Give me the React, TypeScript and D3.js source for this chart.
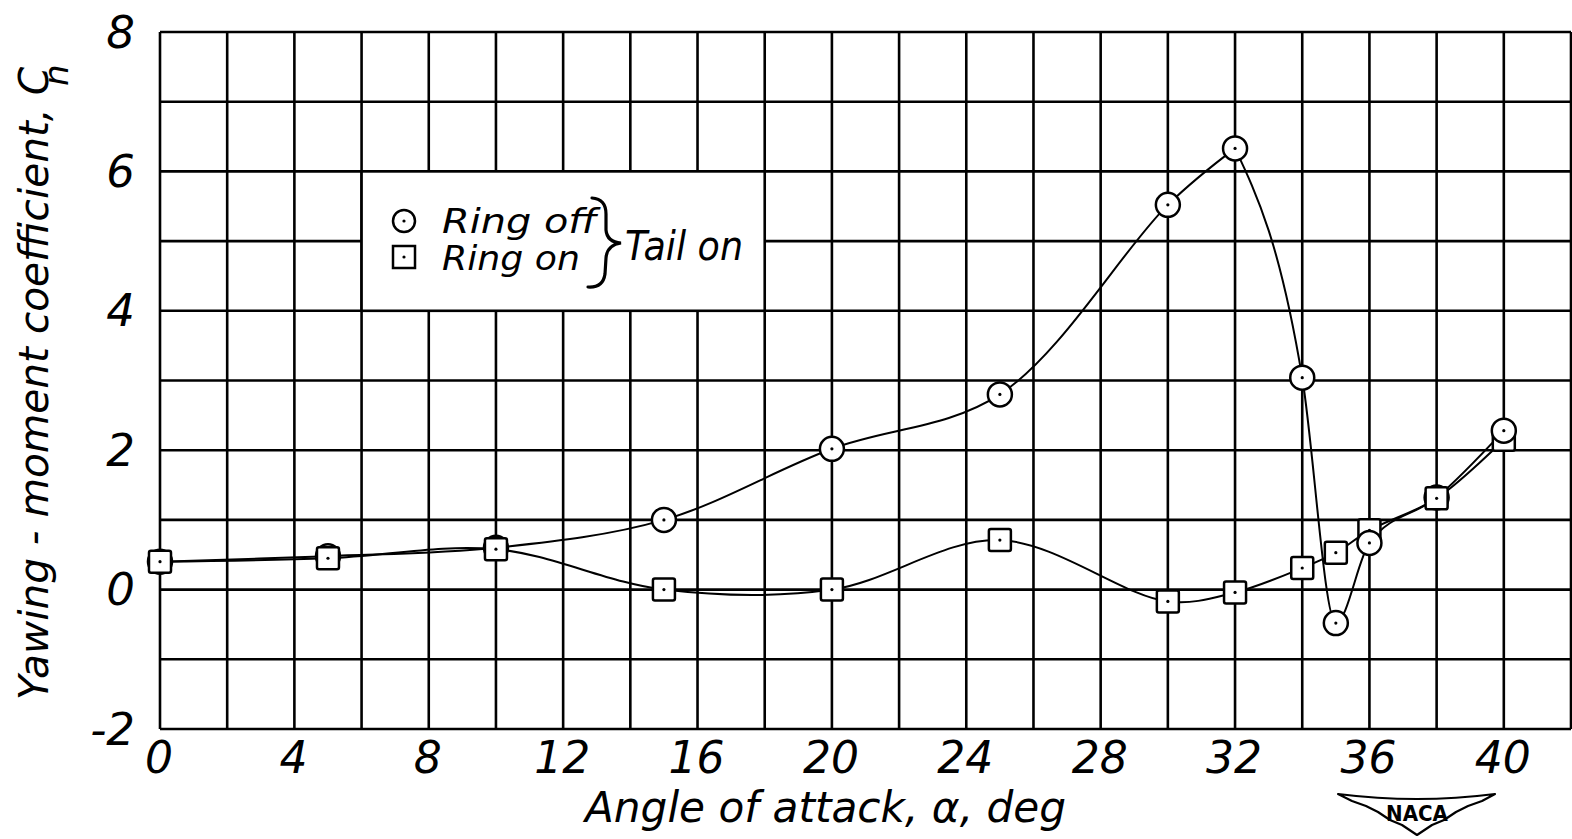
import React from 'react';
import * as d3 from 'd3';

// Angle of attack (deg)
const alphaOff = [0, 5, 10, 15, 20, 25, 30, 32, 34, 35, 36, 38, 40];
const cnRingOff = [0.4, 0.48, 0.6, 1.0, 2.02, 2.8, 5.52, 6.33, 3.04, -0.48, 0.67, 1.32, 2.28];

const alphaOn = [0, 5, 10, 15, 20, 25, 30, 32, 34, 35, 36, 38, 40];
const cnRingOn = [0.4, 0.45, 0.58, 0.0, 0.0, 0.71, -0.17, -0.04, 0.31, 0.53, 0.85, 1.31, 2.15];

const xTicks = [0, 4, 8, 12, 16, 20, 24, 28, 32, 36, 40];
const yTicks = [-2, 0, 2, 4, 6, 8];

const W = 1572;
const H = 839;
const FONT = '"DejaVu Sans", sans-serif';

type Pt = { a: number; v: number };

export default function App() {
  const x = d3.scaleLinear().domain([0, 42]).range([160, 1571]);
  const y = d3.scaleLinear().domain([-2, 8]).range([729, 32]);

  const offPts: Pt[] = alphaOff.map((a, i) => ({ a, v: cnRingOff[i] }));
  const onPts: Pt[] = alphaOn.map((a, i) => ({ a, v: cnRingOn[i] }));

  // ring off: smooth up to the peak, monotone through the stall break
  const peak = 7; // index of the 32 deg point
  const lineSmooth = d3.line<Pt>()
    .x(d => x(d.a)).y(d => y(d.v))
    .curve(d3.curveCatmullRom.alpha(0.5));
  const lineMono = d3.line<Pt>()
    .x(d => x(d.a)).y(d => y(d.v))
    .curve(d3.curveMonotoneX);

  const vGrid = d3.range(0, 43, 2);
  const hGrid = d3.range(-2, 9, 1);

  // circles drawn over squares only where the two series separate
  const onMap = new Map(onPts.map(p => [p.a, p.v]));
  const circleOnTop = (p: Pt) =>
    !onMap.has(p.a) || Math.abs((onMap.get(p.a) as number) - p.v) > 0.1;

  const circle = (p: Pt, k: string) => (
    <g key={k} transform={`translate(${x(p.a)},${y(p.v)})`}>
      <circle r={12} fill="#fff" stroke="#000" strokeWidth={2.5} />
      <circle r={1.6} fill="#000" />
    </g>
  );
  const square = (p: Pt, k: string) => (
    <g key={k} transform={`translate(${x(p.a)},${y(p.v)})`}>
      <rect x={-11} y={-11} width={22} height={22} rx={2} fill="#fff" stroke="#000" strokeWidth={2.5} />
      <circle r={1.6} fill="#000" />
    </g>
  );

  return (
    <svg width={W} height={H} style={{ position: 'fixed', left: 0, top: 0, background: '#fff' }}
      fontFamily={FONT} fontStyle="italic">
      {/* grid */}
      <g stroke="#000" strokeWidth={2.6}>
        {vGrid.map(v => (
          <line key={'v' + v} x1={x(v)} x2={x(v)} y1={y(8)} y2={y(-2)} />
        ))}
        {hGrid.map(v => (
          <line key={'h' + v} x1={x(0)} x2={x(42)} y1={y(v)} y2={y(v)} />
        ))}
      </g>

      {/* legend box */}
      <rect x={x(6)} y={y(6)} width={x(18) - x(6)} height={y(4) - y(6)}
        fill="#fff" stroke="#000" strokeWidth={2.6} />
      <g transform="translate(404,221)">
        <circle r={11} fill="#fff" stroke="#000" strokeWidth={2.5} />
        <circle r={1.6} fill="#000" />
      </g>
      <g transform="translate(404,257)">
        <rect x={-11} y={-11} width={22} height={22} fill="#fff" stroke="#000" strokeWidth={2.5} />
        <circle r={1.6} fill="#000" />
      </g>
      <text x={442} y={233} fontSize={34} textLength={155} lengthAdjust="spacingAndGlyphs">Ring off</text>
      <text x={442} y={270} fontSize={34} textLength={138} lengthAdjust="spacingAndGlyphs">Ring on</text>
      <path d="M592,198 Q606,199 606,214 L606,230 Q607,242 621,243 Q607,245 606,258 L605,274 Q603,288 588,287"
        fill="none" stroke="#000" strokeWidth={3.2} strokeLinecap="round" />
      <text x={625} y={260} fontSize={40} textLength={118} lengthAdjust="spacingAndGlyphs">Tail on</text>

      {/* curves */}
      <path d={lineSmooth(offPts.slice(0, peak + 1)) || ''} fill="none" stroke="#000" strokeWidth={2} />
      <path d={lineMono(offPts.slice(peak)) || ''} fill="none" stroke="#000" strokeWidth={2} />
      <path d={lineSmooth(onPts) || ''} fill="none" stroke="#000" strokeWidth={2} />

      {/* markers */}
      {offPts.filter(p => !circleOnTop(p)).map((p, i) => circle(p, 'cb' + i))}
      {onPts.map((p, i) => square(p, 's' + i))}
      {offPts.filter(p => circleOnTop(p)).map((p, i) => circle(p, 'ct' + i))}

      {/* y tick labels */}
      {yTicks.map(t => (
        <text key={'yt' + t} x={135} y={y(t)} fontSize={45} textAnchor="end" dominantBaseline="central">
          {t}
        </text>
      ))}
      {/* x tick labels */}
      {xTicks.map(t => (
        <text key={'xt' + t} x={x(t) - 1} y={773} fontSize={44} textAnchor="middle">
          {t}
        </text>
      ))}

      {/* axis titles */}
      <text transform="translate(48,700) rotate(-90)" fontSize={40} textLength={633} lengthAdjust="spacingAndGlyphs">
        Yawing - moment coefficient, C
      </text>
      <text transform="translate(68,86) rotate(-90)" fontSize={34}>n</text>
      <text x={585} y={822} fontSize={42} textLength={481} lengthAdjust="spacingAndGlyphs">
        Angle of attack, α, deg
      </text>

      {/* NACA mark */}
      <path d="M1338,794 Q1417,804 1495,794 L1482,801 L1468,806 L1456,812 L1444,820 L1432,825 L1417,835 L1402,825 L1390,820 L1378,812 L1366,806 L1352,801 Z"
        fill="#fff" stroke="#000" strokeWidth={2.2} strokeLinejoin="round" />
      <text x={1417} y={821} fontSize={22} fontStyle="normal" fontWeight="bold" textAnchor="middle"
        textLength={62} lengthAdjust="spacingAndGlyphs">NACA</text>
    </svg>
  );
}
